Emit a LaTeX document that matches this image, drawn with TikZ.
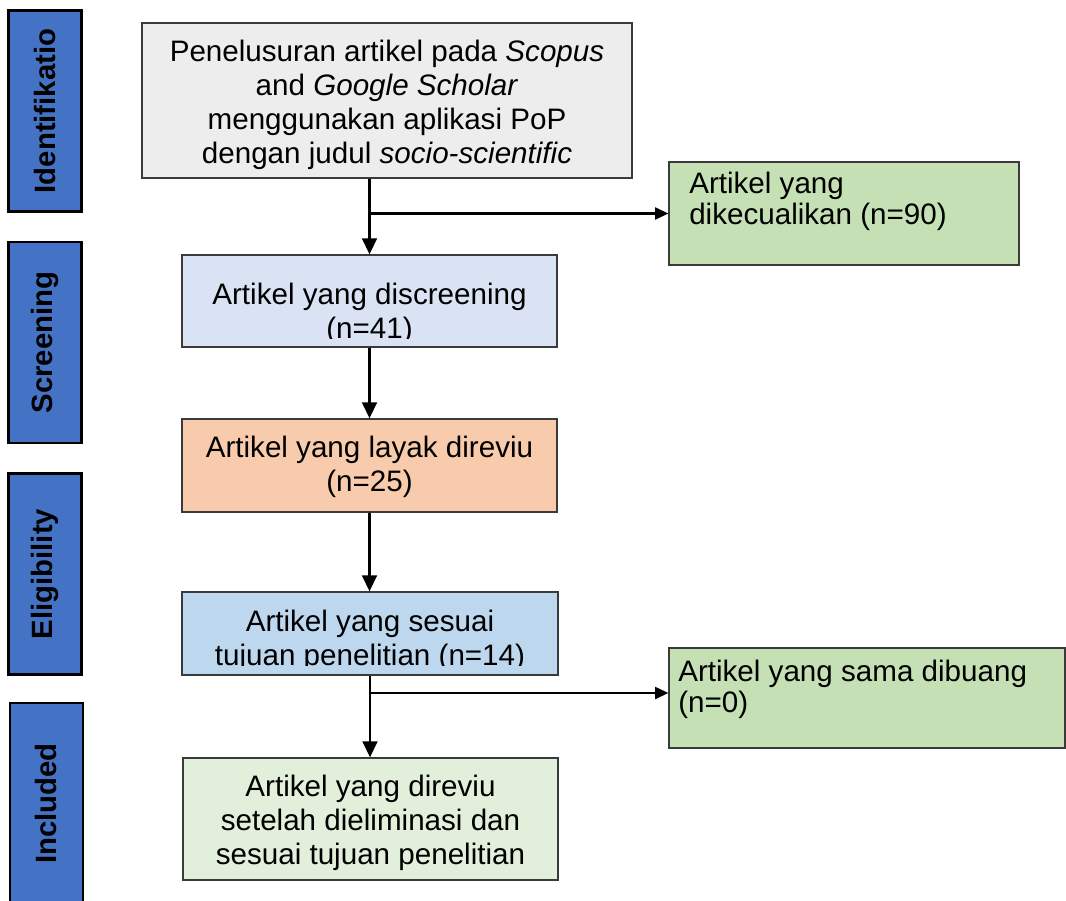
\documentclass[tikz,border=0pt]{standalone}
\usepackage{fontspec}
\setmainfont{Liberation Sans}
\usetikzlibrary{arrows.meta,calc}
\definecolor{barblue}{HTML}{4472C4}
\definecolor{boxgray}{HTML}{EDEDED}
\definecolor{boxblueA}{HTML}{DAE3F3}
\definecolor{boxorange}{HTML}{F8CBAD}
\definecolor{boxblueB}{HTML}{BDD7EE}
\definecolor{boxgreenA}{HTML}{E2EFDA}
\definecolor{boxgreenB}{HTML}{C5E0B4}
\definecolor{edgegray}{HTML}{3A3A3A}
\tikzset{
  phasebar/.style={draw=black, line width=1.6pt, fill=barblue, rotate=90,
    minimum width=150.75pt, minimum height=54.75pt, inner sep=0pt,
    font=\fontsize{22}{26}\selectfont\bfseries},
  flowbox/.style={draw=edgegray, line width=0.9pt, inner sep=0pt},
  boxtext/.style={inner sep=0pt, align=center, font=\fontsize{22.2}{25.5}\selectfont},
  sidetext/.style={inner sep=0pt, align=left, anchor=west, font=\fontsize{22.2}{23.5}\selectfont},
  arr/.style={line width=1.8pt, -{Triangle[length=12pt,width=11pt]}},
  sidearr/.style={line width=1.6pt, -{Triangle[length=10pt,width=9pt]}}
}
\begin{document}
\begin{tikzpicture}[x=0.75pt,y=-0.75pt]
\useasboundingbox[fill=white] (0,0) rectangle (1066,900);
% phase bars
\node[phasebar] (ident) at (45,111) {Identifikatio};
\node[phasebar] (screen) at (45,342.5) {Screening};
\node[phasebar] (elig) at (45,574) {Eligibility};
\node[phasebar] (incl) at (46.5,803.5) {Included};
% main boxes
\node[flowbox, fill=boxgray, minimum width=367.5pt, minimum height=116.25pt] (box1) at (387,100.5) {};
\node[boxtext] (t1) at (387,105) {Penelusuran artikel pada \textit{Scopus}\\ and \textit{Google Scholar}\\ menggunakan aplikasi PoP\\ dengan judul \textit{socio-scientific}};
\node[flowbox, fill=boxblueA, minimum width=281.25pt, minimum height=69pt] (box2) at (369.5,301) {};
\begin{scope}
\clip (182,255) rectangle (557,338);
\node[boxtext] (t2) at (369.5,314) {Artikel yang discreening\\ (n=41)};
\end{scope}
\node[flowbox, fill=boxorange, minimum width=281.25pt, minimum height=69.75pt] (box3) at (369.5,465.5) {};
\node[boxtext] (t3) at (369.5,467) {Artikel yang layak direviu\\ (n=25)};
\node[flowbox, fill=boxblueB, minimum width=282pt, minimum height=62.25pt] (box4) at (370,633.5) {};
\begin{scope}
\clip (182,592) rectangle (558,665);
\node[boxtext] (t4) at (370,641) {Artikel yang sesuai\\ tujuan penelitian (n=14)};
\end{scope}
\node[flowbox, fill=boxgreenA, minimum width=281.25pt, minimum height=91.5pt] (box5) at (370.5,819) {};
\node[boxtext] (t5) at (370.5,823) {Artikel yang direviu\\ setelah dieliminasi dan\\ sesuai tujuan penelitian};
% side boxes
\node[flowbox, fill=boxgreenB, minimum width=262.5pt, minimum height=77.25pt] (ex1) at (844,213.5) {};
\node[sidetext] (s1) at (689,201) {Artikel yang\\ dikecualikan (n=90)};
\node[flowbox, fill=boxgreenB, minimum width=297pt, minimum height=75pt] (ex2) at (867,698) {};
\node[sidetext] (s2) at (678,689) {Artikel yang sama dibuang\\ (n=0)};
% connectors
\coordinate (b1) at (box2.north |- ex1.west);
\coordinate (b2) at (370,693);
\draw[arr] (box1.south -| box2.north) -- (box2.north);
\draw[sidearr] (b1) -- (ex1.west);
\draw[arr] (box2.south) -- (box3.north);
\draw[arr] (box3.south) -- (box3.south |- box4.north);
\draw[arr] (box4.south) -- (box4.south |- box5.north);
\draw[sidearr] (b2) -- (b2 -| ex2.west);
\end{tikzpicture}
\end{document}
